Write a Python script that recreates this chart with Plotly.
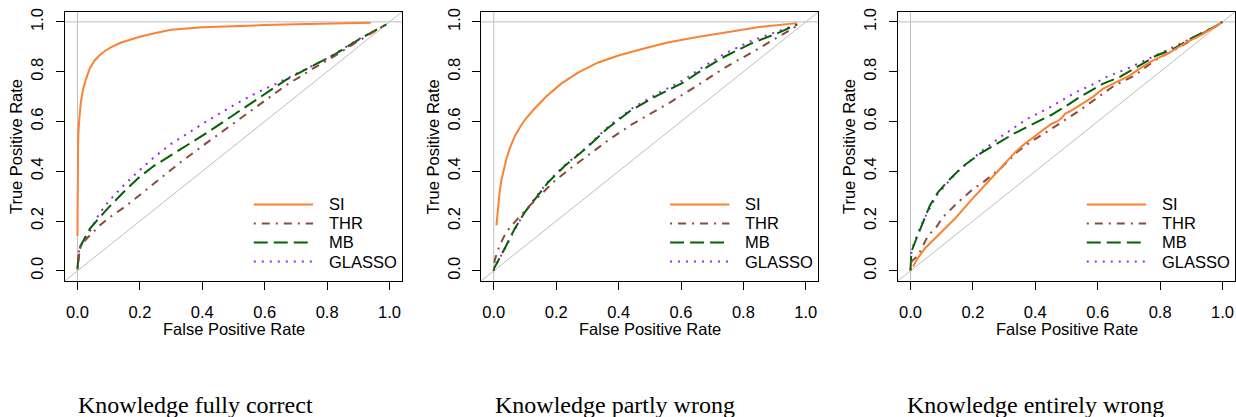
import plotly.graph_objects as go

# ---------------- data ----------------
panel_titles = ["Knowledge fully correct", "Knowledge partly wrong", "Knowledge entirely wrong"]
method_names = ["SI", "THR", "MB", "GLASSO"]
tick_vals = [0.0, 0.2, 0.4, 0.6, 0.8, 1.0]
tick_text = ["0.0", "0.2", "0.4", "0.6", "0.8", "1.0"]

# Panel 1: knowledge fully correct
fpr_si_1 = [0.0, 0.0005, 0.001, 0.002, 0.004, 0.007, 0.01, 0.015, 0.02, 0.03, 0.04, 0.055, 0.07, 0.09, 0.11, 0.14, 0.17, 0.2, 0.25, 0.3, 0.4, 0.5, 0.6, 0.7, 0.8, 0.9, 0.94]
tpr_si_1 = [0.14, 0.3, 0.45, 0.52, 0.58, 0.63, 0.67, 0.71, 0.74, 0.78, 0.815, 0.845, 0.865, 0.885, 0.9, 0.917, 0.93, 0.94, 0.955, 0.968, 0.978, 0.983, 0.987, 0.99, 0.993, 0.996, 0.997]
fpr_thr_1 = [0.0, 0.003, 0.0085, 0.03, 0.072, 0.1, 0.157, 0.2, 0.243, 0.328, 0.413, 0.5, 0.585, 0.668, 0.753, 0.817, 0.9, 0.99]
tpr_thr_1 = [0.005, 0.05, 0.1, 0.13, 0.183, 0.212, 0.262, 0.305, 0.348, 0.434, 0.513, 0.593, 0.672, 0.745, 0.811, 0.857, 0.923, 0.99]
fpr_mb_1 = [0.0, 0.002, 0.005, 0.014, 0.04, 0.072, 0.1, 0.157, 0.2, 0.243, 0.328, 0.413, 0.5, 0.585, 0.668, 0.764, 0.817, 0.9, 0.99]
tpr_mb_1 = [0.01, 0.05, 0.08, 0.11, 0.17, 0.216, 0.255, 0.328, 0.378, 0.42, 0.487, 0.553, 0.626, 0.698, 0.767, 0.83, 0.864, 0.928, 0.99]
fpr_gl_1 = [0.0, 0.002, 0.005, 0.01, 0.02, 0.04, 0.07, 0.1, 0.157, 0.2, 0.243, 0.3, 0.328, 0.413, 0.5, 0.572, 0.636, 0.71, 0.806, 0.9, 0.99]
tpr_gl_1 = [0.01, 0.05, 0.08, 0.1, 0.125, 0.16, 0.23, 0.28, 0.355, 0.405, 0.454, 0.51, 0.533, 0.6, 0.665, 0.714, 0.751, 0.798, 0.857, 0.93, 0.99]

# Panel 2: knowledge partly wrong
fpr_si_2 = [0.0085, 0.011, 0.014, 0.019, 0.025, 0.032, 0.04, 0.052, 0.067, 0.083, 0.099, 0.131, 0.168, 0.216, 0.27, 0.333, 0.397, 0.472, 0.557, 0.653, 0.728, 0.8, 0.856, 0.972]
tpr_si_2 = [0.183, 0.225, 0.262, 0.32, 0.368, 0.41, 0.447, 0.495, 0.54, 0.575, 0.606, 0.652, 0.7, 0.752, 0.796, 0.836, 0.864, 0.89, 0.917, 0.939, 0.955, 0.97, 0.98, 0.995]
fpr_thr_2 = [0.0, 0.003, 0.019, 0.04, 0.067, 0.11, 0.152, 0.195, 0.248, 0.312, 0.376, 0.44, 0.504, 0.568, 0.653, 0.739, 0.824, 0.91, 0.973]
tpr_thr_2 = [0.0, 0.044, 0.103, 0.156, 0.196, 0.255, 0.308, 0.361, 0.414, 0.473, 0.533, 0.586, 0.632, 0.679, 0.745, 0.815, 0.875, 0.94, 0.985]
fpr_mb_2 = [0.0, 0.001, 0.035, 0.067, 0.099, 0.131, 0.173, 0.227, 0.291, 0.365, 0.44, 0.525, 0.61, 0.653, 0.739, 0.824, 0.91, 0.973]
tpr_mb_2 = [0.0, 0.01, 0.09, 0.169, 0.235, 0.288, 0.354, 0.421, 0.487, 0.573, 0.645, 0.705, 0.758, 0.795, 0.86, 0.913, 0.955, 0.99]
fpr_gl_2 = [0.0, 0.001, 0.035, 0.067, 0.099, 0.131, 0.173, 0.227, 0.291, 0.365, 0.44, 0.525, 0.61, 0.653, 0.739, 0.824, 0.91, 0.973]
tpr_gl_2 = [0.0, 0.01, 0.088, 0.167, 0.235, 0.29, 0.357, 0.424, 0.49, 0.577, 0.65, 0.712, 0.768, 0.805, 0.872, 0.923, 0.962, 0.99]

# Panel 3: knowledge entirely wrong
fpr_si_3 = [0.0085, 0.02, 0.046, 0.088, 0.142, 0.195, 0.248, 0.291, 0.334, 0.366, 0.408, 0.451, 0.47, 0.483, 0.496, 0.51, 0.542, 0.584, 0.616, 0.659, 0.702, 0.733, 0.776, 0.83, 0.883, 0.936, 0.995]
tpr_si_3 = [0.017, 0.045, 0.09, 0.143, 0.209, 0.285, 0.355, 0.415, 0.475, 0.51, 0.55, 0.59, 0.6, 0.612, 0.632, 0.64, 0.665, 0.698, 0.731, 0.758, 0.784, 0.811, 0.844, 0.877, 0.917, 0.95, 0.996]
fpr_thr_3 = [0.0, 0.003, 0.025, 0.057, 0.083, 0.104, 0.152, 0.2, 0.232, 0.291, 0.344, 0.387, 0.43, 0.483, 0.536, 0.595, 0.654, 0.718, 0.781, 0.84, 0.904, 0.968, 1.0]
tpr_thr_3 = [0.0, 0.037, 0.063, 0.143, 0.176, 0.216, 0.275, 0.328, 0.355, 0.414, 0.48, 0.52, 0.553, 0.595, 0.639, 0.692, 0.745, 0.784, 0.844, 0.883, 0.93, 0.976, 1.0]
fpr_mb_3 = [0.0, 0.003, 0.019, 0.04, 0.062, 0.088, 0.12, 0.168, 0.227, 0.28, 0.334, 0.398, 0.451, 0.5, 0.542, 0.616, 0.67, 0.723, 0.787, 0.84, 0.904, 0.979, 1.0]
tpr_mb_3 = [0.004, 0.077, 0.13, 0.196, 0.262, 0.315, 0.361, 0.42, 0.474, 0.513, 0.553, 0.593, 0.626, 0.663, 0.698, 0.751, 0.778, 0.817, 0.864, 0.89, 0.937, 0.983, 1.0]
fpr_gl_3 = [0.0, 0.003, 0.019, 0.04, 0.083, 0.147, 0.227, 0.291, 0.376, 0.44, 0.504, 0.531, 0.579, 0.627, 0.696, 0.766, 0.84, 0.915, 0.979, 1.0]
tpr_gl_3 = [0.004, 0.08, 0.135, 0.2, 0.302, 0.394, 0.48, 0.54, 0.612, 0.652, 0.698, 0.718, 0.745, 0.778, 0.813, 0.853, 0.897, 0.943, 0.983, 1.0]

# ---------------- styles ----------------
W, H = 1236, 417
COLORS = {"SI": "#FA8232", "THR": "#8B4A3A", "MB": "#006400", "GLASSO": "#A020F0"}
DASHES = {"SI": "solid", "THR": "2px,6px,8px,6px", "MB": "14px,6px", "GLASSO": "2px,6px"}
GRAY = "#BEBEBE"
SANS = "Liberation Sans, Arial, sans-serif"
SERIF = "Liberation Serif, Times New Roman, serif"
FS = 16.5

panel_left = [65, 481.3, 898]
panel_w = 337
box_top, box_bot = 8, 279.5

panels = [
    {"SI": (fpr_si_1, tpr_si_1), "THR": (fpr_thr_1, tpr_thr_1), "MB": (fpr_mb_1, tpr_mb_1), "GLASSO": (fpr_gl_1, tpr_gl_1)},
    {"SI": (fpr_si_2, tpr_si_2), "THR": (fpr_thr_2, tpr_thr_2), "MB": (fpr_mb_2, tpr_mb_2), "GLASSO": (fpr_gl_2, tpr_gl_2)},
    {"SI": (fpr_si_3, tpr_si_3), "THR": (fpr_thr_3, tpr_thr_3), "MB": (fpr_mb_3, tpr_mb_3), "GLASSO": (fpr_gl_3, tpr_gl_3)},
]

fig = go.Figure()
shapes, annotations = [], []
RNG = [-0.04, 1.04]

for i, pdata in enumerate(panels):
    k = "" if i == 0 else str(i + 1)
    xa, ya = "x" + k, "y" + k
    # draw order: GLASSO, MB, THR, SI on top
    for m in ["GLASSO", "MB", "THR", "SI"]:
        xs, ys = pdata[m]
        fig.add_trace(go.Scatter(x=xs, y=ys, mode="lines", name=m, showlegend=False,
                                 line=dict(color=COLORS[m], width=2, dash=DASHES[m]),
                                 xaxis=xa, yaxis=ya, hoverinfo="skip"))
    # reference lines
    shapes.append(dict(type="line", xref=xa, yref=ya + " domain", x0=0, x1=0, y0=0, y1=1,
                       line=dict(color=GRAY, width=1), layer="below"))
    shapes.append(dict(type="line", xref=xa + " domain", yref=ya, x0=0, x1=1, y0=1, y1=1,
                       line=dict(color=GRAY, width=1), layer="below"))
    shapes.append(dict(type="line", xref=xa, yref=ya, x0=RNG[0], y0=RNG[0], x1=RNG[1], y1=RNG[1],
                       line=dict(color=GRAY, width=1), layer="below"))
    # legend (manual, R-style, no box)
    for j, m in enumerate(method_names):
        ly = 0.267 - 0.0765 * j
        shapes.append(dict(type="line", xref=xa, yref=ya, x0=0.565, x1=0.755, y0=ly, y1=ly,
                           line=dict(color=COLORS[m], width=2, dash=DASHES[m])))
        annotations.append(dict(xref=xa, yref=ya, x=0.80, y=ly, text=m, showarrow=False,
                                xanchor="left", yanchor="middle",
                                font=dict(family=SANS, size=FS, color="black")))
    L = panel_left[i]
    xdom = [L / W, (L + panel_w) / W]
    ydom = [(H - box_bot) / H, (H - box_top) / H]
    axis_common = dict(range=RNG, tickvals=tick_vals, ticktext=tick_text, ticks="outside",
                       ticklen=8, tickwidth=1, tickcolor="black", showline=True, mirror=True,
                       linecolor="black", linewidth=1, showgrid=False, zeroline=False,
                       tickfont=dict(family=SANS, size=FS, color="black"), fixedrange=True)
    fig.update_layout(**{
        "xaxis" + k: dict(domain=xdom, anchor=ya, ticklabelstandoff=8, **axis_common),
        "yaxis" + k: dict(domain=ydom, anchor=xa, tickangle=-90, ticklabelstandoff=6, **axis_common),
    })
    cx = (L + panel_w / 2) / W
    annotations.append(dict(xref="paper", yref="paper", x=cx, y=(H - 328.5) / H, text="False Positive Rate",
                            showarrow=False, xanchor="center", yanchor="middle",
                            font=dict(family=SANS, size=FS, color="black")))
    annotations.append(dict(xref="paper", yref="paper", x=(L - 48.3) / W, y=(H - (box_top + box_bot) / 2) / H,
                            text="True Positive Rate", textangle=-90, showarrow=False,
                            xanchor="center", yanchor="middle",
                            font=dict(family=SANS, size=FS, color="black")))
    cap_x = [195, 615, 1035][i]
    annotations.append(dict(xref="paper", yref="paper", x=cap_x / W, y=(H - 405) / H, text=panel_titles[i],
                            showarrow=False, xanchor="center", yanchor="middle",
                            font=dict(family=SERIF, size=24, color="black")))

fig.update_layout(width=W, height=H, margin=dict(l=0, r=0, t=0, b=0),
                  paper_bgcolor="white", plot_bgcolor="white", showlegend=False,
                  shapes=shapes, annotations=annotations)

fig.write_html("out.html", config={"displayModeBar": False})
